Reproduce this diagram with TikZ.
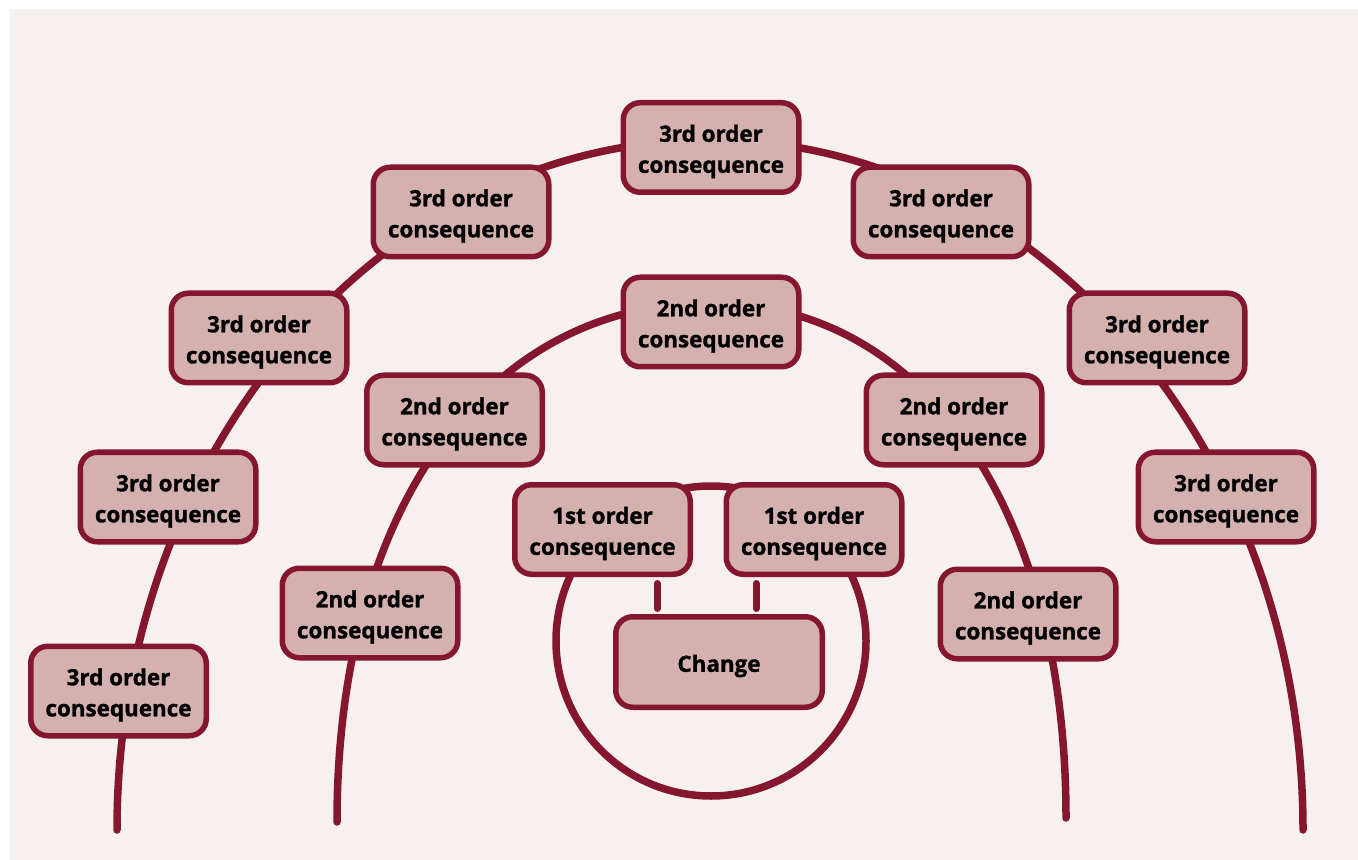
\documentclass[tikz,border=0pt]{standalone}
\usepackage{fontspec}
\setmainfont{Open Sans}[BoldFeatures={FakeBold=1.2}]
\definecolor{wine}{HTML}{84172F}
\definecolor{boxfill}{HTML}{D4B0AF}
\definecolor{paper}{HTML}{F6F1EF}
% invisible strut that sets the text a little lower in the cards
\newcommand\lift{\rule{0pt}{12.5pt}}
\begin{document}
\begin{tikzpicture}[x=0.5pt,y=-0.5pt,
  card/.style={draw=wine, fill=boxfill, line width=2.75pt, rounded corners=8.5pt,
    minimum width=87.75pt, minimum height=44.75pt, inner sep=0pt, align=center,
    font=\fontsize{11.2}{15.5}\selectfont\bfseries, text=black},
  wide/.style={card, minimum width=103.25pt, minimum height=45.25pt},
  ring/.style={draw=wine, line width=3.75pt, line cap=round},
  bar/.style={draw=wine, line width=3.5pt, line cap=round}]
\useasboundingbox (0,0) rectangle (1358,860);
\fill[white] (0,0) rectangle (1358,860);
\fill[paper] (10,9) rectangle (1358,860);

% end points of the open arcs
\coordinate (outerL) at (117,830);
\coordinate (innerL) at (337,822);
\coordinate (innerR) at (1066,818);

% third-order ring: half ellipse
\draw[ring] (outerL) arc[start angle=180, end angle=360, x radius=593, y radius=690];
% second-order ring
\draw[ring] (innerL) .. controls (337,510) and (486,303) .. (710,303)
  .. controls (924,303) and (1066,509) .. (innerR);
% first-order ring
\draw[ring] (711,641) circle[radius=155];

% third-order consequences
\node[card] (t1) at (711,147.5) {\lift 3rd order\\consequence};
\node[card] (t2) at (461,212) {\lift 3rd order\\consequence};
\node[card] (t3) at (941,212) {\lift 3rd order\\consequence};
\node[card] (t4) at (259,338) {\lift 3rd order\\consequence};
\node[card] (t5) at (1157,338) {\lift 3rd order\\consequence};
\node[card] (t6) at (168,497) {\lift 3rd order\\consequence};
\node[card] (t7) at (1226,497) {\lift 3rd order\\consequence};
\node[card] (t8) at (118.5,691) {\lift 3rd order\\consequence};

% second-order consequences
\node[card] (s1) at (711,322) {\lift 2nd order\\consequence};
\node[card] (s2) at (454.5,420) {\lift 2nd order\\consequence};
\node[card] (s3) at (954,420) {\lift 2nd order\\consequence};
\node[card] (s4) at (370,613) {\lift 2nd order\\consequence};
\node[card] (s5) at (1028,614) {\lift 2nd order\\consequence};

% first-order consequences and the change
\node[card] (f1) at (602.5,529.5) {\lift 1st order\\consequence};
\node[card] (f2) at (814,529.5) {\lift 1st order\\consequence};
\node[wide] (ch) at (719,662) {\lift Change};

% links between first order and the change
\draw[bar, shorten <=3.25pt, shorten >=2.75pt]
  ([xshift=27.25pt]f1.south) -- ([xshift=27.25pt]f1.south |- ch.north);
\draw[bar, shorten <=3.25pt, shorten >=2.75pt]
  ([xshift=-29pt]f2.south) -- ([xshift=-29pt]f2.south |- ch.north);
\end{tikzpicture}
\end{document}
